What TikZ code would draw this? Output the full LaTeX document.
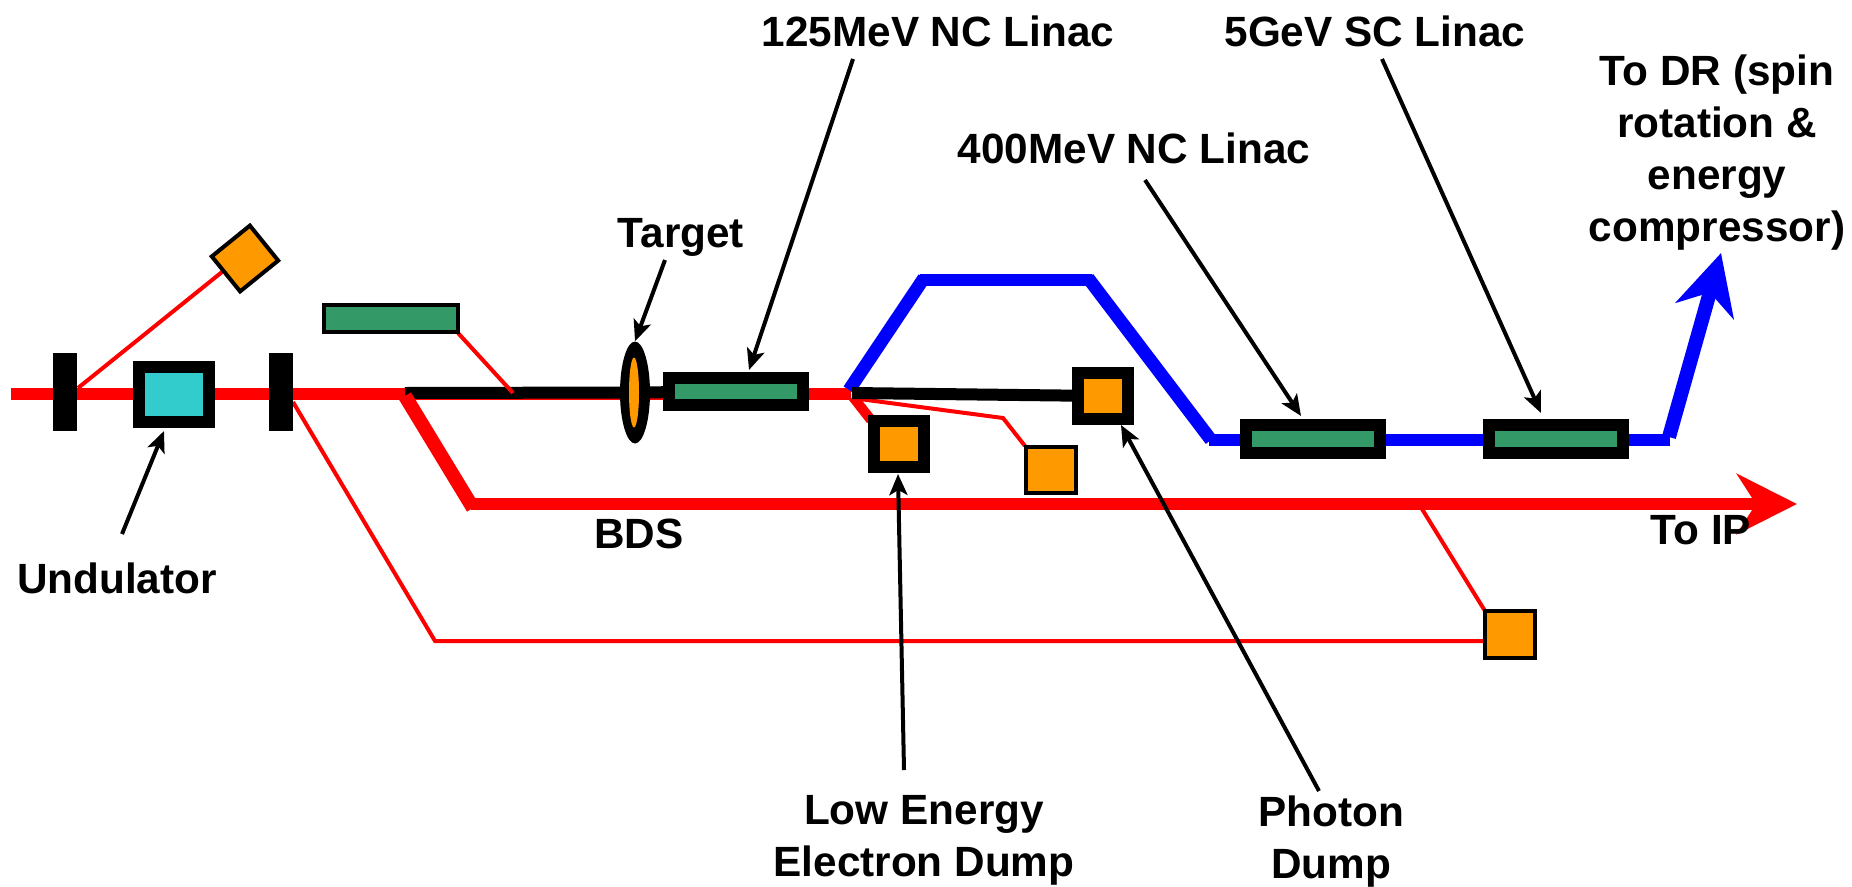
\documentclass[tikz,border=0pt]{standalone}
\usepackage{fontspec}
\setmainfont{Liberation Sans}
\usetikzlibrary{arrows.meta,shapes.geometric,backgrounds}
\definecolor{beamred}{HTML}{FF0000}
\definecolor{beamblue}{HTML}{0000FF}
\definecolor{linacgreen}{HTML}{339966}
\definecolor{undcyan}{HTML}{33CCCC}
\definecolor{dumporange}{HTML}{FF9900}
\tikzset{
  lbl/.style={font=\fontsize{42.3}{52}\selectfont\bfseries,align=center,inner sep=0pt,text=black},
  thickbox/.style={draw=black,line width=12pt,inner sep=0pt,minimum width=#1},
  thinbox/.style={draw=black,line width=4pt,inner sep=0pt,minimum width=#1},
  bar/.style={fill=black,inner sep=0pt,minimum width=24pt,minimum height=78pt},
  redthick/.style={draw=beamred,line width=12pt},
  redthin/.style={draw=beamred,line width=4pt},
  blackbeam/.style={draw=black,line width=12pt},
  bluebeam/.style={draw=beamblue,line width=12pt},
  note/.style={draw=black,line width=4pt,-{Stealth[length=21pt,width=18pt,inset=5pt]}},
  bigtip/.style={-{Stealth[length=60pt,width=60pt,inset=19pt]}}
}
\begin{document}
\begin{tikzpicture}[x=1pt,y=-1pt]
\useasboundingbox (0,0) rectangle (1852,886);
% components
\node[bar] (bar1) at (65,392) {};
\node[bar] (bar2) at (281,392) {};
\node[thickbox=70pt,minimum height=55pt,fill=undcyan] (und) at (174,394.5) {};
\node[thinbox=45pt,minimum height=49pt,fill=dumporange,rotate=-51] (diamond) at (245,258.5) {};
\node[thinbox=134pt,minimum height=27pt,fill=linacgreen] (spare) at (391,318.5) {};
\node[ellipse,fill=black,inner sep=0pt,minimum width=30pt,minimum height=102pt] (target) at (635,392.5) {};
\node[ellipse,fill=dumporange,inner sep=0pt,minimum width=10pt,minimum height=70pt] (targetcore) at (634,392.5) {};
\node[thickbox=134pt,minimum height=27pt,fill=linacgreen] (linacA) at (736,391.5) {};
\node[thickbox=50pt,minimum height=46pt,fill=dumporange] (photon) at (1103,396) {};
\node[thickbox=50pt,minimum height=46pt,fill=dumporange] (low) at (899,444) {};
\node[thinbox=50pt,minimum height=46pt,fill=dumporange] (small) at (1051,470) {};
\node[thickbox=134pt,minimum height=28pt,fill=linacgreen] (linacB) at (1313,439) {};
\node[thickbox=134pt,minimum height=28pt,fill=linacgreen] (linacC) at (1555.5,439) {};
\node[thinbox=50pt,minimum height=47pt,fill=dumporange] (right) at (1510,634.5) {};
% free points of the beam lines
\coordinate (start) at (11,394);
\coordinate (split) at (851,394);
\coordinate (tgtline) at (405,393);
\coordinate (bdsA) at (405,396);
\coordinate (bdsB) at (473,508);
\coordinate (bdsC) at (471,504);
\coordinate (bdsEnd) at (1797,504);
\coordinate (tap) at (1422,509);
\coordinate (tapT) at (513,393);
\coordinate (bendA) at (435,641);
\coordinate (bendB) at (1003,418);
\coordinate (bA) at (849,390);
\coordinate (bB) at (924,278);
\coordinate (bC) at (920,280);
\coordinate (bD) at (1092,280);
\coordinate (bE) at (1088,278);
\coordinate (bF) at (1211,440);
\coordinate (bG) at (1209,440);
\coordinate (bH) at (1670,440);
\coordinate (bI) at (1669,437);
\coordinate (bTip) at (1721,253);
\coordinate (pA) at (852,393);
\coordinate (pB) at (852,398);
\coordinate (pC) at (853,397);
\begin{scope}[on background layer]
  \draw[redthick] (start) -- (split);
  \draw[blackbeam] (tgtline) -- (target.center);
  \draw[blackbeam] (target.center) -- (linacA.center);
  \draw[redthick,line width=14pt] (bdsA) -- (bdsB);
  \draw[redthick,bigtip] (bdsC) -- (bdsEnd);
  \draw[redthin] ([shift={(13,-4)}]bar1.center) -- ([shift={(-23,13.5)}]diamond.center);
  \draw[redthin] ([shift={(67,14.5)}]spare.center) -- (tapT);
  \draw[redthin] ([shift={(12,10)}]bar2.center) -- (bendA) -- ([shift={(-25,6.5)}]right.center);
  \draw[redthin] (tap) -- ([shift={(-25,-23.5)}]right.center);
  \draw[line width=10pt,draw=beamred] (pC) -- ([shift={(-28,-24)}]low.center);
  \draw[redthin] (pB) -- (bendB) -- ([shift={(-26,-24)}]small.center);
  \draw[bluebeam,line width=13pt] (bA) -- (bB);
  \draw[bluebeam] (bC) -- (bD);
  \draw[bluebeam,line width=13pt] (bE) -- (bF);
  \draw[bluebeam] (bG) -- (bH);
  \draw[bluebeam,line width=14pt,bigtip] (bI) -- (bTip);
  \draw[blackbeam] (pA) -- (photon.center);
\end{scope}
% labels
\node[lbl] (lA) at (938,31) {125MeV NC Linac};
\node[lbl] (lC) at (1375,31) {5GeV SC Linac};
\node[lbl] (lDR) at (1717,153) {To DR (spin\\rotation \&\\energy\\compressor)};
\node[lbl] (lB) at (1134,148) {400MeV NC Linac};
\node[lbl] (lT) at (681,237.5) {Target};
\node[lbl] (lU) at (117,578) {Undulator};
\node[lbl] (lBDS) at (639,534) {BDS};
\node[lbl] (lIP) at (1701,530) {To IP};
\node[lbl] (lLow) at (924,840) {Low Energy\\Electron Dump};
\node[lbl] (lPh) at (1331,841.5) {Photon\\Dump};
% pointers
\draw[note] ([shift={(-85,28)}]lA.center) -- ([shift={(13,-21.5)}]linacA.center);
\draw[note] ([shift={(7,28)}]lC.center) -- ([shift={(-14.5,-26)}]linacC.center);
\draw[note] ([shift={(11,32)}]lB.center) -- ([shift={(-12,-23)}]linacB.center);
\draw[note] ([shift={(-16,22.5)}]lT.center) -- (target.north);
\draw[note] ([shift={(5,-44)}]lU.center) -- ([shift={(-10,36.5)}]und.center);
\draw[note] ([shift={(-20,-70)}]lLow.center) -- ([shift={(-1,30)}]low.center);
\draw[note] ([shift={(-12,-50.5)}]lPh.center) -- ([shift={(18,29)}]photon.center);
\end{tikzpicture}
\end{document}
